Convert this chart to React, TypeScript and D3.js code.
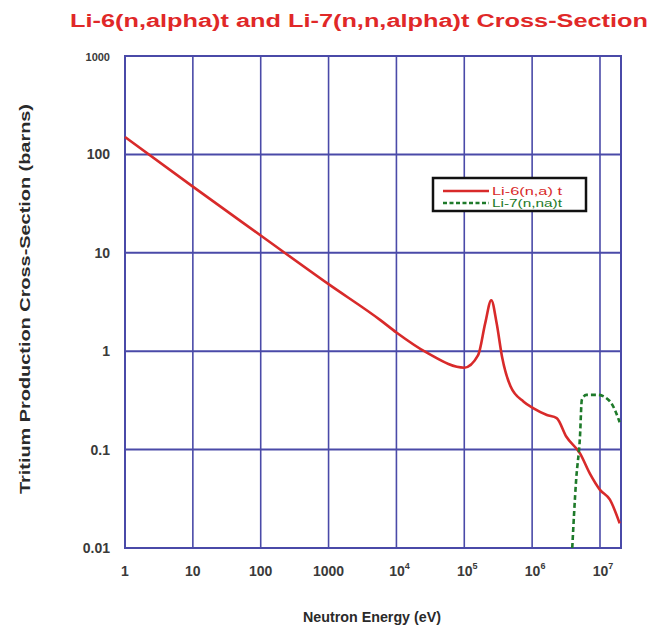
import React from "react";
import * as d3 from "d3";

const title = "Li-6(n,alpha)t and Li-7(n,n,alpha)t Cross-Section";
const xTitle = "Neutron Energy (eV)";
const yTitle = "Tritium Production Cross-Section (barns)";

const xTicks = [1, 10, 100, 1000, 1e4, 1e5, 1e6, 1e7];
const xTickLabels = ["1", "10", "100", "1000", "10|4", "10|5", "10|6", "10|7"];
const yTicks = [0.01, 0.1, 1, 10, 100, 1000];
const yTickLabels = ["0.01", "0.1", "1", "10", "100", "1000"];

// Li-6(n,a)t : energy (eV), cross-section (barns)
const li6Energy = [1, 10, 100, 1000, 5.8e3, 1e4, 2.85e4, 1e5, 1.6e5, 2.04e5, 2.5e5, 3.0e5, 3.6e5, 4.8e5, 7.5e5, 1.05e6, 1.65e6, 2.3e6, 3.2e6, 5.1e6, 7.1e6, 1e7, 1.4e7, 1.95e7];
const li6Sigma = [150, 47, 15, 4.8, 2.07, 1.55, 0.96, 0.68, 0.91, 1.94, 3.3, 1.92, 0.88, 0.44, 0.307, 0.263, 0.225, 0.209, 0.135, 0.091, 0.057, 0.039, 0.031, 0.0178];

// Li-7(n,n'a)t
const li7Energy = [3.9e6, 4.45e6, 5.07e6, 5.4e6, 6.3e6, 9.3e6, 1.4e7, 1.95e7];
const li7Sigma = [0.01, 0.049, 0.135, 0.32, 0.36, 0.36, 0.31, 0.19];

const legendLabels = ["Li-6(n,a) t", "Li-7(n,na)t"];

const W = 655, H = 634;
const left = 125, right = 621, top = 56, bottom = 548;

export default function App() {
  const x = d3.scaleLog().domain([1, 2.04e7]).range([left, right]);
  const y = d3.scaleLog().domain([0.01, 1000]).range([bottom, top]);
  const line = d3.line<[number, number]>()
    .x(d => x(d[0]))
    .y(d => y(d[1]))
    .curve(d3.curveMonotoneX);
  const li6 = li6Energy.map((e, i) => [e, li6Sigma[i]] as [number, number]);
  const li7 = li7Energy.map((e, i) => [e, li7Sigma[i]] as [number, number]);
  const grid = "#4a4aa8";
  const font = "'Liberation Sans', Arial, sans-serif";
  return (
    <svg width={W} height={H} style={{ position: "absolute", left: 0, top: 0, background: "#fff" }} fontFamily={font}>
      <rect x={0} y={0} width={W} height={H} fill="#fff" />
      <text x={70} y={27} fill="#e02828" fontSize={18} fontWeight="bold" textLength={578} lengthAdjust="spacingAndGlyphs">{title}</text>
      {/* grid */}
      {xTicks.map((t, i) => (
        <line key={"gx" + i} x1={x(t)} x2={x(t)} y1={top} y2={bottom} stroke={grid} strokeWidth={1.6} />
      ))}
      {yTicks.map((t, i) => (
        <line key={"gy" + i} x1={left} x2={right} y1={y(t)} y2={y(t)} stroke={grid} strokeWidth={2} />
      ))}
      <rect x={left} y={top} width={right - left} height={bottom - top} fill="none" stroke={grid} strokeWidth={2} />
      {/* curves */}
      <path d={line(li6) || ""} fill="none" stroke="#d82a2a" strokeWidth={2.6} strokeLinejoin="round" />
      <path d={line(li7) || ""} fill="none" stroke="#1e7a2a" strokeWidth={2.6} strokeDasharray="5,3" />
      {/* y ticks */}
      {yTicks.map((t, i) => (
        <text key={"ty" + i} x={110} y={y(t) + 5} textAnchor="end" fontSize={i === 5 ? 11 : 14} fontWeight="bold" fill="#3a3a3a">{yTickLabels[i]}</text>
      ))}
      {/* x ticks */}
      {xTicks.map((t, i) => {
        const parts = xTickLabels[i].split("|");
        return (
          <text key={"tx" + i} x={x(t) + (parts[1] ? 3 : 0)} y={576} textAnchor="middle" fontSize={14} fontWeight="bold" fill="#3a3a3a">
            {parts[0]}
            {parts[1] && <tspan dy={-7} fontSize={9}>{parts[1]}</tspan>}
          </text>
        );
      })}
      <text x={372} y={622} textAnchor="middle" fontSize={14} fontWeight="bold" fill="#2a2a2a" textLength={138} lengthAdjust="spacingAndGlyphs">{xTitle}</text>
      <text transform="translate(30,299) rotate(-90)" textAnchor="middle" fontSize={14.5} fontWeight="bold" fill="#2a2a2a" textLength={390} lengthAdjust="spacingAndGlyphs">{yTitle}</text>
      {/* legend */}
      <rect x={433} y={178} width={153} height={33} fill="#fff" stroke="#111" strokeWidth={2.5} />
      <line x1={443} x2={489} y1={191} y2={191} stroke="#d82a2a" strokeWidth={2.4} />
      <text x={492} y={195} fontSize={11.5} fill="#d82a2a" textLength={70} lengthAdjust="spacingAndGlyphs">{legendLabels[0]}</text>
      <line x1={443} x2={489} y1={203} y2={203} stroke="#1e7a2a" strokeWidth={2.4} strokeDasharray="4,2.5" />
      <text x={492} y={207} fontSize={11.5} fill="#1e7a2a" textLength={70} lengthAdjust="spacingAndGlyphs">{legendLabels[1]}</text>
    </svg>
  );
}
